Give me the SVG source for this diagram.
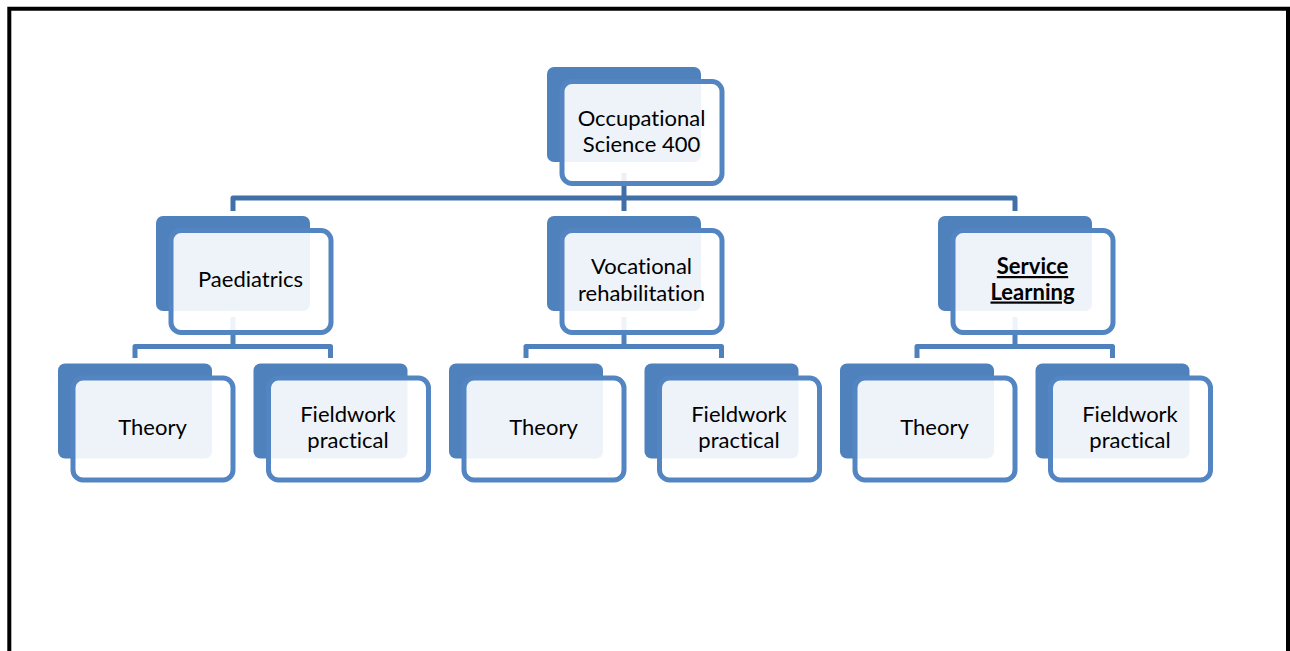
<svg xmlns="http://www.w3.org/2000/svg" width="1290" height="651" viewBox="0 0 1290 651">
  <defs>
    <style>
      .back { fill: #4F81BD; }
      .front { fill: #FFFFFF; fill-opacity: 0.9; stroke: #5285C2; stroke-width: 5; }
      .lbl { font-family: Lato, "Liberation Sans", sans-serif; font-size: 22px; fill: #000000; text-anchor: middle; font-variant-ligatures: none; }
      .bold { font-weight: bold; text-decoration: underline; }
      .conn1 { fill: none; stroke: #4170A8; stroke-width: 5; stroke-linejoin: round; }
      .conn2 { fill: none; stroke: #4F81BD; stroke-width: 5; stroke-linejoin: round; }
    </style>
  </defs>

  <rect width="1290" height="651" fill="#FFFFFF"/>

  <!-- page frame -->
  <path d="M9.3 651 V8.7 H1288 V651" fill="none" stroke="#000000" stroke-width="4"/>

  <!-- connectors -->
  <g id="connectors">
    <path class="conn1" d="M624 173 V198"/>
    <path class="conn1" d="M233 211 V198 H1015 V211"/>
    <path class="conn1" d="M624 198 V211"/>

    <path class="conn2" d="M233 317 V346.5"/>
    <path class="conn2" d="M135 358 V346.5 H330.5 V358"/>
    <path class="conn2" d="M624 317 V346.5"/>
    <path class="conn2" d="M526 358 V346.5 H721.5 V358"/>
    <path class="conn2" d="M1015 317 V346.5"/>
    <path class="conn2" d="M917 358 V346.5 H1112.5 V358"/>
  </g>

  <!-- level 1 -->
  <g id="node-os400" transform="translate(547 67)">
    <rect class="back" x="0" y="0" width="154" height="95" rx="7"/>
    <rect class="front" x="15" y="14.5" width="160" height="102" rx="10"/>
    <text class="lbl" x="94.5" y="58.5">Occupational</text>
    <text class="lbl" x="94.5" y="85">Science 400</text>
  </g>

  <!-- level 2 -->
  <g id="node-paediatrics" transform="translate(156 216)">
    <rect class="back" x="0" y="0" width="154" height="95" rx="7"/>
    <rect class="front" x="15" y="14.5" width="160" height="102" rx="10"/>
    <text class="lbl" x="94.5" y="70.5">Paediatrics</text>
  </g>
  <g id="node-vocational" transform="translate(547 216)">
    <rect class="back" x="0" y="0" width="154" height="95" rx="7"/>
    <rect class="front" x="15" y="14.5" width="160" height="102" rx="10"/>
    <text class="lbl" x="94.5" y="58">Vocational</text>
    <text class="lbl" x="94.5" y="85">rehabilitation</text>
  </g>
  <g id="node-service" transform="translate(938 216)">
    <rect class="back" x="0" y="0" width="154" height="95" rx="7"/>
    <rect class="front" x="15" y="14.5" width="160" height="102" rx="10"/>
    <text class="lbl bold" x="94.5" y="58">Service</text>
    <text class="lbl bold" x="94.5" y="83.5">Learning</text>
  </g>

  <!-- level 3 -->
  <g id="node-theory-1" transform="translate(58 363.5)">
    <rect class="back" x="0" y="0" width="154" height="95" rx="7"/>
    <rect class="front" x="15" y="14.5" width="160" height="102" rx="10"/>
    <text class="lbl" x="94.5" y="71.5">Theory</text>
  </g>
  <g id="node-fieldwork-1" transform="translate(253.5 363.5)">
    <rect class="back" x="0" y="0" width="154" height="95" rx="7"/>
    <rect class="front" x="15" y="14.5" width="160" height="102" rx="10"/>
    <text class="lbl" x="94.5" y="58.2">Fieldwork</text>
    <text class="lbl" x="94.5" y="84.8">practical</text>
  </g>
  <g id="node-theory-2" transform="translate(449 363.5)">
    <rect class="back" x="0" y="0" width="154" height="95" rx="7"/>
    <rect class="front" x="15" y="14.5" width="160" height="102" rx="10"/>
    <text class="lbl" x="94.5" y="71.5">Theory</text>
  </g>
  <g id="node-fieldwork-2" transform="translate(644.5 363.5)">
    <rect class="back" x="0" y="0" width="154" height="95" rx="7"/>
    <rect class="front" x="15" y="14.5" width="160" height="102" rx="10"/>
    <text class="lbl" x="94.5" y="58.2">Fieldwork</text>
    <text class="lbl" x="94.5" y="84.8">practical</text>
  </g>
  <g id="node-theory-3" transform="translate(840 363.5)">
    <rect class="back" x="0" y="0" width="154" height="95" rx="7"/>
    <rect class="front" x="15" y="14.5" width="160" height="102" rx="10"/>
    <text class="lbl" x="94.5" y="71.5">Theory</text>
  </g>
  <g id="node-fieldwork-3" transform="translate(1035.5 363.5)">
    <rect class="back" x="0" y="0" width="154" height="95" rx="7"/>
    <rect class="front" x="15" y="14.5" width="160" height="102" rx="10"/>
    <text class="lbl" x="94.5" y="58.2">Fieldwork</text>
    <text class="lbl" x="94.5" y="84.8">practical</text>
  </g>
</svg>
